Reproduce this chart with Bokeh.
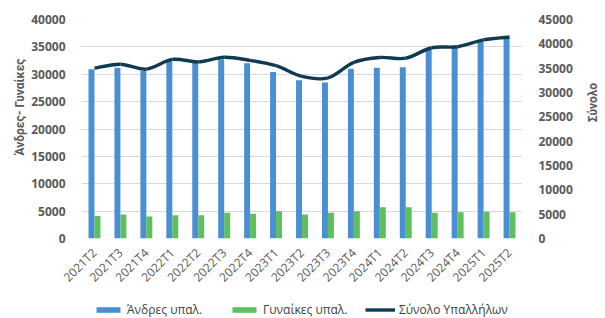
import math
from bokeh.plotting import figure
from bokeh.layouts import column, row
from bokeh.models import (Range1d, LinearAxis, FixedTicker, SingleIntervalTicker,
                          Legend, LegendItem, Title, Label, ColumnDataSource)
from bokeh.embed import file_html
from bokeh.resources import INLINE

quarters = ["2021T2", "2021T3", "2021T4", "2022T1", "2022T2", "2022T3", "2022T4",
            "2023T1", "2023T2", "2023T3", "2023T4", "2024T1", "2024T2", "2024T3",
            "2024T4", "2025T1", "2025T2"]
men = [30900, 31200, 30700, 32400, 32100, 32700, 32000, 30400, 28900, 28500,
       31000, 31200, 31300, 34500, 34800, 36100, 36600]
women = [4100, 4400, 4000, 4250, 4250, 4700, 4500, 5000, 4400, 4700,
         5000, 5700, 5700, 4700, 4800, 4900, 4800]
total = [35000, 35800, 34800, 36800, 36300, 37250, 36600, 35500, 33300, 33000,
         36200, 37200, 37050, 39200, 39400, 40800, 41400]
series_names = ["Άνδρες υπαλ.", "Γυναίκες υπαλ.", "Σύνολο Υπαλλήλων"]

FONT = "Open Sans"
TFONT = "Roboto"
GREY = "#595959"
BLUE = "#4A8FD4"
GREEN = "#5DBF5D"
NAVY = "#0E3A52"

n = len(quarters)
xs = list(range(n))
MAIN_H = 295

p = figure(width=579, height=MAIN_H, output_backend="svg", toolbar_location=None,
           x_range=Range1d(-0.5, n - 0.5), y_range=Range1d(0, 40000),
           min_border_left=81, min_border_right=57, min_border_top=19,
           min_border_bottom=MAIN_H - 238)
p.outline_line_color = None
p.extra_y_ranges = {"total": Range1d(0, 45000)}

bw = 0.23
p.vbar(x=[x - bw / 2 for x in xs], top=men, width=bw, fill_color=BLUE, line_color=None)
p.vbar(x=[x + bw / 2 for x in xs], top=women, width=bw, fill_color=GREEN, line_color=None)

# smooth line through totals (Catmull-Rom style bezier segments)
x0, y0, x1, y1, cx0, cy0, cx1, cy1 = [], [], [], [], [], [], [], []
for i in range(n - 1):
    pm = (xs[max(i - 1, 0)], total[max(i - 1, 0)])
    pa = (xs[i], total[i])
    pb = (xs[i + 1], total[i + 1])
    pn = (xs[min(i + 2, n - 1)], total[min(i + 2, n - 1)])
    x0.append(pa[0]); y0.append(pa[1]); x1.append(pb[0]); y1.append(pb[1])
    cx0.append(pa[0] + (pb[0] - pm[0]) / 6); cy0.append(pa[1] + (pb[1] - pm[1]) / 6)
    cx1.append(pb[0] - (pn[0] - pa[0]) / 6); cy1.append(pb[1] - (pn[1] - pa[1]) / 6)
p.bezier(x0=x0, y0=y0, x1=x1, y1=y1, cx0=cx0, cy0=cy0, cx1=cx1, cy1=cy1,
         line_color=NAVY, line_width=3.4, y_range_name="total")

# axes
p.xaxis.ticker = FixedTicker(ticks=xs)
p.xaxis.major_label_overrides = {i: q for i, q in enumerate(quarters)}
p.xaxis.major_label_orientation = math.pi / 4
p.xaxis.major_label_text_font = FONT
p.xaxis.major_label_text_font_size = "12px"
p.xaxis.major_label_text_color = GREY
p.xaxis.axis_line_color = None
p.xaxis.major_tick_line_color = None
p.xaxis.minor_tick_line_color = None
p.xaxis.major_label_standoff = 6

p.yaxis.ticker = SingleIntervalTicker(interval=5000)

right = LinearAxis(y_range_name="total", ticker=SingleIntervalTicker(interval=5000))
p.add_layout(right, "right")

for ax in (p.yaxis[0], right):
    ax.axis_line_color = None
    ax.major_tick_line_color = None
    ax.minor_tick_line_color = None
    ax.major_label_text_font = FONT
    ax.major_label_text_font_size = "12px"
    ax.major_label_text_font_style = "bold"
    ax.major_label_text_color = GREY
    ax.major_label_standoff = 10

left_title = Title(text="Άνδρες- Γυναίκες", align="left", offset=83,
                   text_font=TFONT, text_font_size="12px", text_font_style="bold",
                   text_color=GREY, standoff=4)
p.add_layout(left_title, "left")

p.xgrid.grid_line_color = None
p.ygrid.grid_line_color = "#D9D9D9"
p.ygrid.grid_line_width = 1
p.ygrid.ticker = SingleIntervalTicker(interval=5000)

# right-hand title (reads bottom to top), in a narrow strip
side = figure(width=26, height=MAIN_H, output_backend="svg", toolbar_location=None,
              x_range=Range1d(0, 26), y_range=Range1d(0, MAIN_H),
              min_border=0, outline_line_color=None)
side.axis.visible = False
side.grid.visible = False
side.add_layout(Label(x=13, y=MAIN_H - 112, text="Σύνολο", angle=math.pi / 2,
                      text_align="center", text_baseline="middle",
                      text_font=TFONT, text_font_size="12px", text_font_style="bold",
                      text_color=GREY))

# legend strip (proxy renderers sit outside the strip's visible range)
leg = figure(width=605, height=318 - MAIN_H, output_backend="svg", toolbar_location=None,
             x_range=Range1d(0, 1), y_range=Range1d(0, 1),
             min_border=0, outline_line_color=None)
leg.axis.visible = False
leg.grid.visible = False
proxy = ColumnDataSource(dict(x=[-10, -11], top=[-10, -10], y=[-10, -10]))
l_men = leg.vbar(x="x", top="top", width=0.1, source=proxy, fill_color=BLUE, line_color=None)
l_women = leg.vbar(x="x", top="top", width=0.1, source=proxy, fill_color=GREEN, line_color=None)
l_tot = leg.line(x="x", y="y", source=proxy, line_color=NAVY, line_width=3.4)
legend = Legend(items=[LegendItem(label=series_names[0], renderers=[l_men]),
                       LegendItem(label=series_names[1], renderers=[l_women]),
                       LegendItem(label=series_names[2], renderers=[l_tot])],
                orientation="horizontal", location=(93, 0))
legend.label_text_font = FONT
legend.label_text_font_size = "12px"
legend.label_text_color = "#404040"
legend.label_width = 88
legend.glyph_width = 30
legend.glyph_height = 7
legend.spacing = 14
legend.label_standoff = 4
legend.padding = 0
legend.margin = 0
legend.border_line_color = None
legend.background_fill_alpha = 0
leg.add_layout(legend, "center")

layout = column(row(p, side, spacing=0), leg, spacing=0)
open("out.html", "w").write(file_html(layout, INLINE))
